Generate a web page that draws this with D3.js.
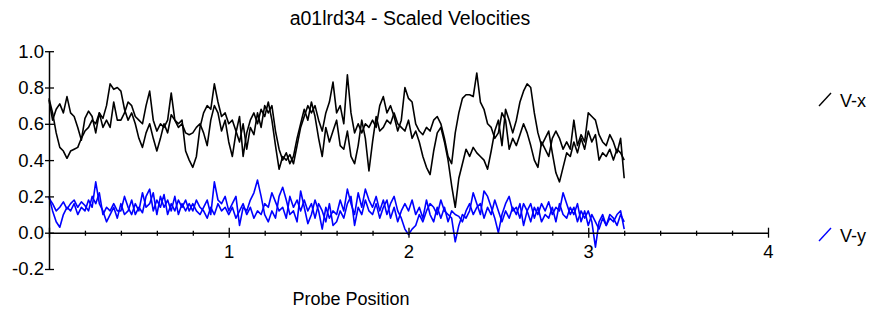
<!DOCTYPE html>
<html><head><meta charset="utf-8">
<script src="https://cdn.jsdelivr.net/npm/d3@7"></script>
<style>
body{margin:0;background:#fff}
svg{display:block}
text{font-family:"Liberation Sans",Arial,Helvetica,sans-serif;fill:#000}
</style>
</head><body><svg id="c" width="875" height="312"></svg>
<script>
const title = "a01lrd34 - Scaled Velocities";
const xLabel = "Probe Position";
const xTickValues = [0,0.2,0.4,0.6,0.8,1,1.2,1.4,1.6,1.8,2,2.2,2.4,2.6,2.8,3,3.2,3.4,3.6,3.8,4];
const xTickLabels = {1:"1",2:"2",3:"3",4:"4"};
const yTickValues = [-0.2,0,0.2,0.4,0.6,0.8,1.0];
const yTickLabels = ["-0.2","0.0","0.2","0.4","0.6","0.8","1.0"];
const seriesNames = ["V-x","V-y"];
const step = 0.02; // probe position spacing of the samples

const vx1 = [0.74,0.66,0.55,0.47,0.45,0.41,0.45,0.46,0.47,0.52,
0.56,0.58,0.62,0.60,0.66,0.63,0.70,0.82,0.79,0.80,
0.78,0.68,0.62,0.66,0.60,0.52,0.47,0.55,0.60,0.52,
0.45,0.52,0.60,0.55,0.65,0.62,0.58,0.60,0.55,0.54,
0.55,0.58,0.60,0.55,0.48,0.62,0.70,0.66,0.56,0.62,
0.50,0.42,0.55,0.64,0.42,0.55,0.62,0.66,0.60,0.68,
0.64,0.72,0.62,0.48,0.35,0.42,0.40,0.43,0.38,0.48,
0.58,0.64,0.70,0.66,0.70,0.62,0.56,0.66,0.72,0.83,
0.66,0.70,0.60,0.87,0.66,0.55,0.60,0.55,0.60,0.58,
0.62,0.58,0.70,0.75,0.66,0.70,0.64,0.56,0.62,0.80,
0.74,0.72,0.60,0.56,0.54,0.58,0.56,0.62,0.64,0.60,
0.52,0.42,0.38,0.55,0.66,0.74,0.76,0.76,0.75,0.88,
0.72,0.68,0.60,0.58,0.52,0.55,0.66,0.62,0.46,0.52,
0.48,0.54,0.60,0.55,0.48,0.40,0.36,0.50,0.46,0.42,
0.52,0.56,0.52,0.46,0.50,0.46,0.62,0.48,0.54,0.50,
0.66,0.64,0.62,0.54,0.50,0.48,0.54,0.50,0.44,0.52,0.30];

const vx2 = [0.73,0.62,0.68,0.71,0.66,0.75,0.66,0.64,0.58,0.51,
0.63,0.67,0.64,0.55,0.66,0.58,0.62,0.58,0.72,0.62,
0.62,0.66,0.72,0.70,0.64,0.62,0.60,0.70,0.78,0.62,
0.56,0.60,0.58,0.62,0.77,0.62,0.60,0.62,0.45,0.40,
0.36,0.42,0.58,0.66,0.70,0.68,0.82,0.72,0.64,0.66,
0.60,0.62,0.56,0.50,0.60,0.46,0.58,0.54,0.66,0.58,
0.70,0.66,0.70,0.56,0.46,0.40,0.44,0.38,0.42,0.52,
0.60,0.68,0.62,0.72,0.64,0.52,0.42,0.58,0.50,0.56,
0.62,0.48,0.46,0.56,0.42,0.38,0.48,0.62,0.52,0.34,
0.50,0.64,0.56,0.58,0.62,0.60,0.66,0.60,0.58,0.56,
0.62,0.52,0.56,0.50,0.42,0.36,0.32,0.45,0.55,0.58,
0.50,0.40,0.26,0.14,0.30,0.38,0.46,0.42,0.47,0.44,
0.42,0.40,0.35,0.45,0.56,0.62,0.48,0.68,0.62,0.55,
0.62,0.72,0.78,0.82,0.80,0.66,0.55,0.48,0.52,0.56,
0.44,0.33,0.28,0.36,0.44,0.42,0.50,0.44,0.52,0.46,
0.56,0.50,0.54,0.40,0.44,0.42,0.46,0.40,0.46,0.44,0.40];

const vy1 = [0.20,0.12,0.06,0.03,0.10,0.14,0.12,0.16,0.10,0.14,
0.12,0.18,0.14,0.28,0.16,0.12,0.06,0.10,0.14,0.08,
0.16,0.10,0.12,0.18,0.10,0.14,0.11,0.20,0.24,0.12,
0.18,0.14,0.21,0.10,0.16,0.12,0.18,0.14,0.18,0.12,
0.16,0.12,0.10,0.14,0.18,0.10,0.28,0.18,0.16,0.20,
0.12,0.16,0.20,0.04,0.14,0.12,0.18,0.22,0.29,0.20,
0.10,0.06,0.12,0.08,0.20,0.25,0.18,0.10,0.12,0.06,
0.23,0.14,0.05,0.10,0.18,0.12,0.02,0.14,0.08,0.12,
0.10,0.18,0.12,0.24,0.16,0.10,0.22,0.14,0.24,0.18,
0.14,0.20,0.12,0.18,0.10,0.16,0.20,0.12,0.08,0.02,
-0.01,0.02,0.04,0.10,0.06,0.12,0.16,0.14,0.10,0.18,
0.12,0.10,0.08,-0.05,0.04,0.10,0.08,0.12,0.22,0.16,
0.10,0.23,0.20,0.14,0.08,0.00,0.10,0.16,0.20,0.12,
0.14,0.08,0.16,0.12,0.06,0.14,0.10,0.16,0.12,0.17,
0.10,0.14,0.12,0.22,0.16,0.10,0.14,0.06,0.12,0.08,
0.12,0.06,-0.08,0.06,0.10,0.04,0.08,0.06,0.10,0.12,0.02];

const vy2 = [0.19,0.16,0.12,0.14,0.17,0.13,0.16,0.18,0.14,0.17,
0.15,0.12,0.20,0.16,0.22,0.10,0.14,0.12,0.16,0.12,
0.12,0.20,0.14,0.10,0.16,0.12,0.22,0.14,0.16,0.22,
0.10,0.20,0.14,0.18,0.12,0.20,0.10,0.16,0.12,0.16,
0.12,0.18,0.14,0.12,0.08,0.14,0.10,0.16,0.12,0.14,
0.10,0.14,0.08,0.12,0.16,0.10,0.14,0.08,0.12,0.10,
0.16,0.14,0.22,0.17,0.12,0.14,0.08,0.20,0.14,0.18,
0.12,0.18,0.12,0.16,0.08,0.16,0.12,0.06,0.16,0.04,
0.06,0.12,0.08,0.16,0.20,0.04,0.14,0.10,0.18,0.12,
0.10,0.16,0.08,0.14,0.18,0.08,0.14,0.06,0.12,0.16,
0.12,0.18,0.10,0.14,0.08,0.18,0.10,0.06,0.14,0.08,
0.14,0.06,0.12,0.10,0.09,0.06,0.12,0.16,0.10,0.14,
0.16,0.08,0.14,0.10,0.18,0.12,0.06,0.12,0.08,0.14,
0.10,0.16,0.04,0.12,0.16,0.08,0.14,0.06,0.10,0.08,
0.14,0.06,0.16,0.10,0.08,0.14,0.10,0.16,0.06,0.12,
0.04,0.10,0.06,0.02,0.08,0.04,0.10,0.08,0.04,0.10,0.06];

const svg = d3.select("#c");
const x = d3.scaleLinear().domain([0,4]).range([49,768]);
const y = d3.scaleLinear().domain([-0.2,1.0]).range([269,51.2]);
const FS = 18;

// title
svg.append("text").attr("x",410).attr("y",25).attr("text-anchor","middle")
  .style("font-size","19.5px").text(title);

// data lines
const line = d3.line().x((d,i)=>x(i*step)).y(d=>y(d));
const series = [
  {v:vx1,c:"#000"},{v:vx2,c:"#000"},
  {v:vy1,c:"#0000ff"},{v:vy2,c:"#0000ff"}
];
svg.append("g").selectAll("path").data(series).join("path")
  .attr("d",d=>line(d.v)).attr("fill","none").attr("stroke",d=>d.c)
  .attr("stroke-width",1.6).attr("stroke-linejoin","round");

// x axis
const xAxis = d3.axisBottom(x).tickValues(xTickValues).tickSizeOuter(0)
  .tickFormat(d=>xTickLabels[Math.round(d*10)/10] || "");
const gx = svg.append("g").attr("transform",`translate(0,${y(0)})`).call(xAxis);
gx.select(".domain").attr("stroke","#000").attr("stroke-width",1.5);
gx.selectAll(".tick line").attr("stroke","#000").attr("stroke-width",1.3)
  .attr("y1",d=>Number.isInteger(Math.round(d*1000)/1000)?-5:-2)
  .attr("y2",d=>Number.isInteger(Math.round(d*1000)/1000)?5:3);
gx.selectAll(".tick text").attr("y",12).attr("dy","0.71em")
  .style("font-size","18.5px").style("font-family","'Liberation Sans',Arial,sans-serif").attr("fill","#000");

// y axis
const yAxis = d3.axisLeft(y).tickValues(yTickValues).tickSizeOuter(0)
  .tickFormat((d,i)=>yTickLabels[i]);
const gy = svg.append("g").attr("transform",`translate(${x(0)},0)`).call(yAxis);
gy.select(".domain").attr("stroke","#000").attr("stroke-width",1.5);
gy.selectAll(".tick line").attr("stroke","#000").attr("stroke-width",1.3)
  .attr("x1",-4).attr("x2",5);
gy.selectAll(".tick text").attr("x",-5)
  .style("font-size","18.5px").style("font-family","'Liberation Sans',Arial,sans-serif").attr("fill","#000");

// x label
svg.append("text").attr("x",351).attr("y",305).attr("text-anchor","middle")
  .style("font-size",FS+"px").text(xLabel);

// legend
const legend = [
  {name:seriesNames[0],c:"#000",yb:107},
  {name:seriesNames[1],c:"#0000ff",yb:242}
];
const lg = svg.append("g").selectAll("g").data(legend).join("g");
lg.append("line").attr("x1",819).attr("x2",831)
  .attr("y1",d=>d.yb-1).attr("y2",d=>d.yb-14)
  .attr("stroke",d=>d.c).attr("stroke-width",1.4);
lg.append("text").attr("x",840).attr("y",d=>d.yb)
  .style("font-size",FS+"px").text(d=>d.name);
</script>
</body></html>
